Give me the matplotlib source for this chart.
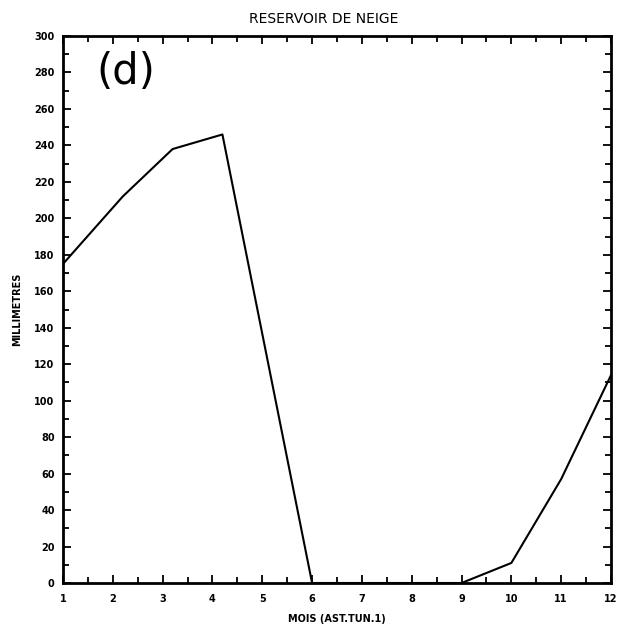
import matplotlib
matplotlib.use("Agg")
import matplotlib.pyplot as plt
from matplotlib.ticker import MultipleLocator

months = [1, 2.2, 3.2, 4.2, 6, 7, 8, 9, 10, 11, 12]
snow_mm = [175, 212, 238, 246, 0, 0, 0, 0, 11, 57, 114]
x_ticks = list(range(1, 13))
y_ticks = list(range(0, 301, 20))

fig = plt.figure(figsize=(6.35, 6.27), dpi=100)
ax = fig.add_axes([63/635, 1-583/627, (611-63)/635, (583-36)/627])

ax.plot(months, snow_mm, color="black", lw=1.5)
ax.set_xlim(1, 12)
ax.set_ylim(0, 300)
ax.set_xticks(x_ticks)
ax.set_yticks(y_ticks)
ax.xaxis.set_minor_locator(MultipleLocator(0.5))
ax.yaxis.set_minor_locator(MultipleLocator(10))
ax.tick_params(which="both", direction="in", top=True, right=True, labelright=False, labeltop=False, width=1.3)
ax.tick_params(which="major", length=6, labelsize=7, pad=6)
ax.tick_params(axis="x", which="major", pad=8)
ax.tick_params(which="minor", length=4)
for lab in ax.get_xticklabels() + ax.get_yticklabels():
    lab.set_fontweight("bold")
for s in ax.spines.values():
    s.set_linewidth(2)

ax.set_xlabel("MOIS (AST.TUN.1)", fontsize=7, fontweight="bold", labelpad=7)
ax.set_ylabel("MILLIMETRES", fontsize=7, fontweight="bold", labelpad=9)
fig.text(0.51, 0.97, "RESERVOIR DE NEIGE", ha="center", va="center", fontsize=10)
ax.text(0.06, 0.935, "(d)", transform=ax.transAxes, fontsize=30, ha="left", va="center")

fig.savefig("out.png", dpi=100)
